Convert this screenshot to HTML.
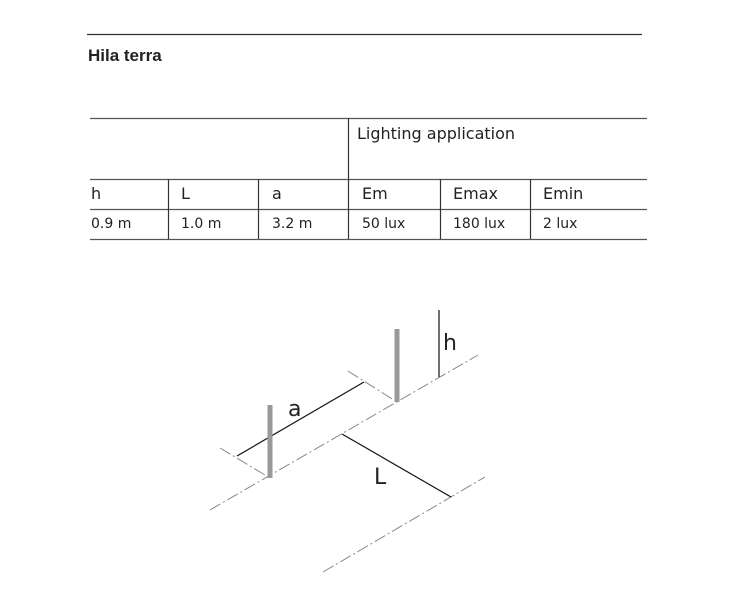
<!DOCTYPE html>
<html><head><style>
body{margin:0;background:#fff;width:734px;height:600px;overflow:hidden;font-family:"DejaVu Sans","Liberation Sans",sans-serif;color:#222}
.t{position:absolute;white-space:nowrap}
</style></head><body>
<svg width="734" height="600" style="position:absolute;left:0;top:0">
<g stroke="#333" stroke-width="1.2">
<line x1="87" y1="34.5" x2="642" y2="34.5"/>
<line x1="90" y1="118.5" x2="647" y2="118.5" stroke="#555"/>
<line x1="90" y1="179.5" x2="647" y2="179.5" stroke="#555"/>
<line x1="90" y1="209.5" x2="647" y2="209.5" stroke="#555"/>
<line x1="90" y1="239.5" x2="647" y2="239.5" stroke="#555"/>
<line x1="348.5" y1="118" x2="348.5" y2="239"/>
<line x1="168.5" y1="179" x2="168.5" y2="239"/>
<line x1="258.5" y1="179" x2="258.5" y2="239"/>
<line x1="440.5" y1="179" x2="440.5" y2="239"/>
<line x1="530.5" y1="179" x2="530.5" y2="239"/>
</g>
<g stroke="#888" stroke-width="1" stroke-dasharray="12,3,2,3" fill="none">
<line x1="210" y1="510" x2="478" y2="355"/>
<line x1="323" y1="572" x2="485" y2="477"/>
<line x1="220" y1="448" x2="270" y2="478"/>
<line x1="348" y1="371" x2="397" y2="402"/>
</g>
<g stroke="#111" stroke-width="1.2">
<line x1="237" y1="456" x2="364" y2="382"/>
<line x1="439" y1="310" x2="439" y2="377"/>
<line x1="342" y1="434" x2="451" y2="497"/>
</g>
<g stroke="#999" stroke-width="5">
<line x1="270" y1="405" x2="270" y2="478"/>
<line x1="397" y1="329" x2="397" y2="402"/>
</g>
<g font-family="DejaVu Sans,Liberation Sans,sans-serif" font-size="22" fill="#222">
<text x="288" y="416">a</text>
<text x="443" y="350">h</text>
<text x="374" y="484">L</text>
</g>
</svg>
<div class="t" style="left:88px;top:46px;font-weight:bold;font-size:17px;font-family:'Liberation Sans',sans-serif">Hila terra</div>
<div class="t" style="left:357px;top:124px;font-size:16px">Lighting application</div>
<div class="t" style="left:91px;top:184px;font-size:16px">h</div>
<div class="t" style="left:181px;top:184px;font-size:16px">L</div>
<div class="t" style="left:272px;top:184px;font-size:16px">a</div>
<div class="t" style="left:362px;top:184px;font-size:16px">Em</div>
<div class="t" style="left:453px;top:184px;font-size:16px">Emax</div>
<div class="t" style="left:543px;top:184px;font-size:16px">Emin</div>
<div class="t" style="left:91px;top:216px;font-size:14px">0.9 m</div>
<div class="t" style="left:181px;top:216px;font-size:14px">1.0 m</div>
<div class="t" style="left:272px;top:216px;font-size:14px">3.2 m</div>
<div class="t" style="left:362px;top:216px;font-size:14px">50 lux</div>
<div class="t" style="left:453px;top:216px;font-size:14px">180 lux</div>
<div class="t" style="left:543px;top:216px;font-size:14px">2 lux</div>
</body></html>
